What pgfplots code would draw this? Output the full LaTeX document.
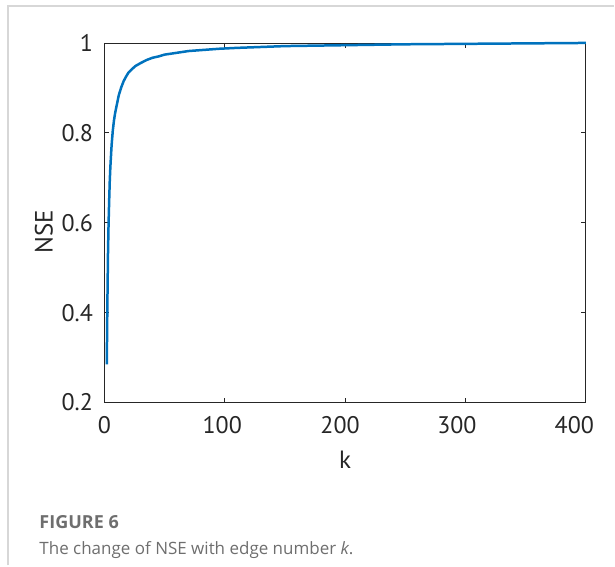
\documentclass[border=0pt]{standalone}
\usepackage{pgfplots}
\pgfplotsset{compat=1.18}
\usepackage{fontspec}
\setmainfont{Open Sans}
\newfontfamily\chartfont{PT Sans}
\definecolor{mblue}{RGB}{0,114,189}
\definecolor{axgray}{RGB}{38,38,38}
\definecolor{capgray}{RGB}{110,110,110}
\definecolor{framegray}{RGB}{215,215,215}
\begin{document}
\begin{tikzpicture}
\path (0pt,0pt) rectangle (615pt,566pt);
\draw[framegray, line width=1.5pt] (8pt,0pt) -- (8pt,560pt) -- (615pt,560pt);
\begin{axis}[
  at={(104.5pt,163pt)}, anchor=south west,
  scale only axis, width=482pt, height=360pt,
  xmin=0, xmax=400, ymin=0.2, ymax=1,
  xtick={0,100,200,300,400},
  xticklabels={0,100\hspace*{5pt},200\hspace*{10pt},300\hspace*{17pt},400\hspace*{23pt}},
  ytick={0.2,0.4,0.6,0.8,1},
  yticklabels={0.2,0.4,0.6,0.8,1},
  tick align=inside,
  major tick length=5pt,
  axis line style={axgray, line width=0.8pt},
  every tick/.style={axgray, line width=0.8pt},
  /pgf/number format/assume math mode=true,
  tick label style={font=\chartfont\fontsize{24}{26}\selectfont, text=axgray},
  xticklabel style={yshift=-10pt, overlay},
  yticklabel style={xshift=-8pt},
  xlabel={k}, ylabel={NSE},
  label style={font=\chartfont\fontsize{25}{28}\selectfont, text=axgray},
  xlabel style={at={(axis description cs:0.5,0)}, anchor=center, yshift=-57pt},
  ylabel style={at={(axis description cs:0,0.5)}, anchor=center, xshift=-9pt, yshift=60.5pt},
  clip=false,
]
\addplot[mblue, line width=2.5pt, line join=round] coordinates {
(2,0.285) (2.5,0.42) (3,0.53) (3.5,0.60) (4,0.65) (4.5,0.695) (5,0.725) (6,0.772) (7,0.805) (8,0.828) (9,0.845) (10,0.858) (12,0.884) (14,0.901) (16,0.915) (18,0.925) (20,0.934) (23,0.942) (26,0.949) (30,0.955) (35,0.962) (40,0.967) (45,0.970) (50,0.974) (60,0.978) (70,0.982) (80,0.984) (95,0.987) (110,0.989) (130,0.991) (150,0.993) (175,0.994) (200,0.995) (250,0.997) (300,0.998) (350,0.999) (400,1.0)
};
\end{axis}
\node[anchor=west, text=capgray, font=\fontsize{18}{20}\selectfont\bfseries] at (36pt,43pt) {FIGURE 6};
\node[anchor=west, text=capgray, font=\fontsize{17}{20}\selectfont] at (36pt,15pt) {The change of NSE with edge number \textit{k}.};
\end{tikzpicture}
\end{document}
